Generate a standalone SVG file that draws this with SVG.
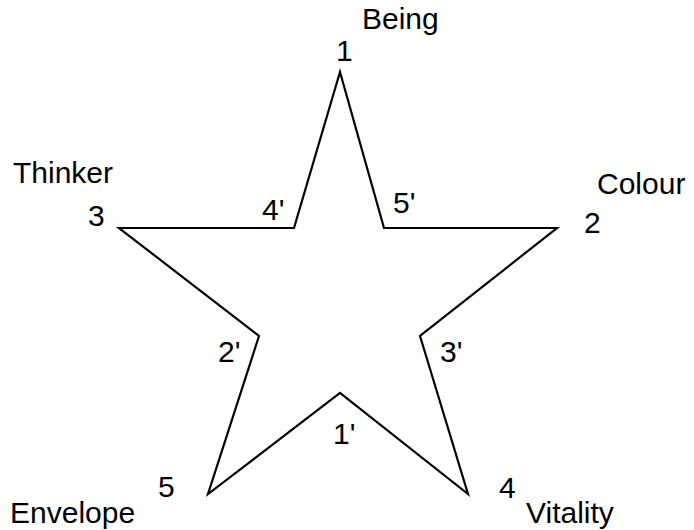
<svg xmlns="http://www.w3.org/2000/svg" width="694" height="530" viewBox="0 0 694 530">
<style>
text{font-family:"Liberation Sans",Arial,sans-serif;font-size:30px;fill:#000}
.star{fill:none;stroke:#000;stroke-width:2.2;stroke-linejoin:miter;stroke-miterlimit:20}
</style>
<rect width="694" height="530" fill="#fff"/>
<g id="star">
<polygon class="star" points="340,72 384,228 557,228 420,336 468,494 340,393 208,494 259,336 119,228 294,228"/>
</g>
<g id="labels">
<text x="362" y="29">Being</text>
<text x="336" y="61">1</text>
<text x="13" y="183">Thinker</text>
<text x="88" y="226">3</text>
<text x="262" y="220">4'</text>
<text x="393" y="213">5'</text>
<text x="597" y="194">Colour</text>
<text x="584" y="233">2</text>
<text x="218" y="362">2'</text>
<text x="440" y="362">3'</text>
<text x="333" y="444">1'</text>
<text x="158" y="497">5</text>
<text x="10" y="523">Envelope</text>
<text x="499" y="498">4</text>
<text x="526" y="523">Vitality</text>
</g>
</svg>
